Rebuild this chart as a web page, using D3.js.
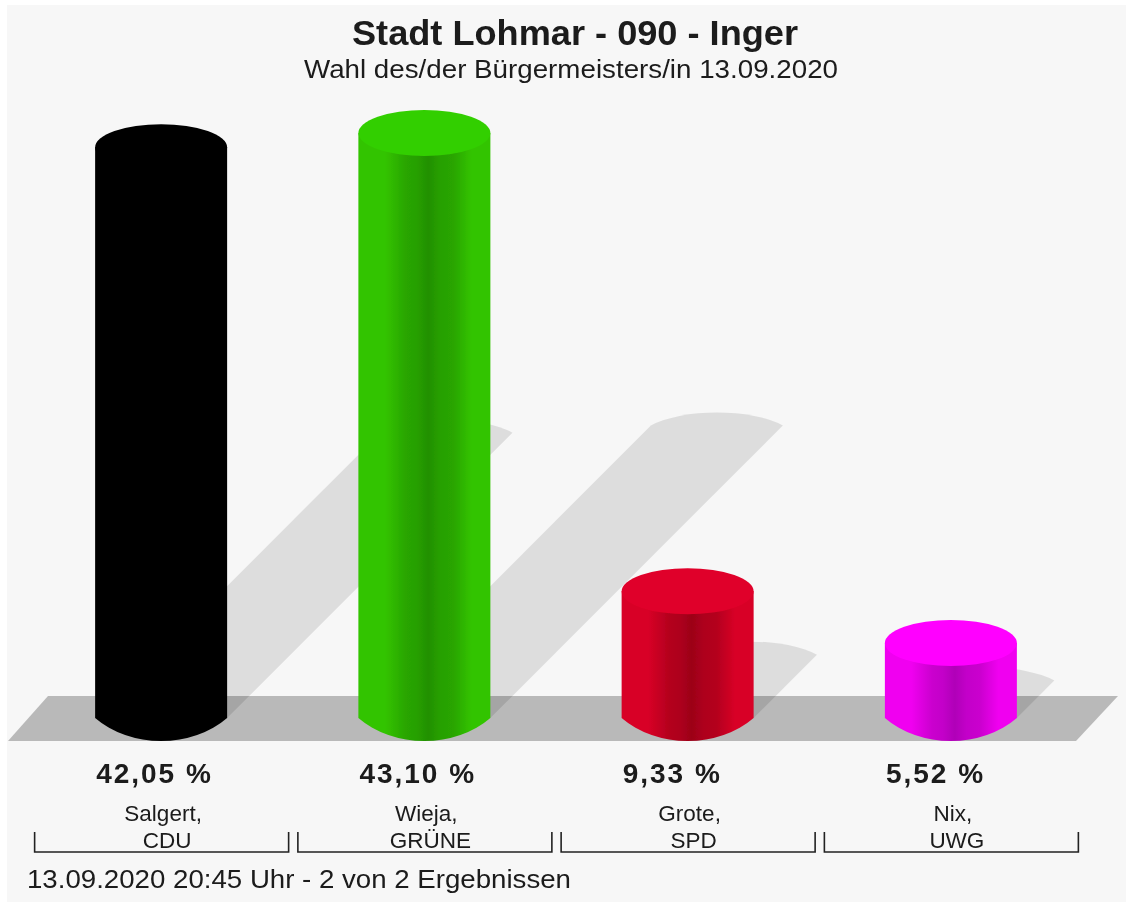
<!DOCTYPE html>
<html><head><meta charset="utf-8">
<style>html,body{margin:0;padding:0;background:#fff}svg{display:block}text{font-family:"Liberation Sans",Arial,sans-serif;fill:#1a1a1a}</style>
<script src="https://cdn.jsdelivr.net/npm/d3@7"></script>
</head><body><div id="chart"></div>
<script>
const categories = ["Salgert, CDU","Wieja, GRÜNE","Grote, SPD","Nix, UWG"];
const nameLines = ["Salgert,","Wieja,","Grote,","Nix,"];
const partyLines = ["CDU","GRÜNE","SPD","UWG"];
const values = [42.05,43.10,9.33,5.52];
const valueLabels = ["42,05 %","43,10 %","9,33 %","5,52 %"];
const capColors = ["#000000","#33cf00","#e0002a","#ff00ff"];
const sideColors = ["#000000","#33c400","#d80026","#f000f0"];
const darkColors = ["#000000","#229000","#9c0018","#b000b8"];
const titleText = "Stadt Lohmar - 090 - Inger";
const subtitleText = "Wahl des/der Bürgermeisters/in 13.09.2020";
const footerText = "13.09.2020 20:45 Uhr - 2 von 2 Ergebnissen";

const W=1133,H=906, baseY=718, rx=66, ry=23;
const svg=d3.select("#chart").append("svg").attr("width",W).attr("height",H);
svg.append("rect").attr("x",7).attr("y",5).attr("width",W-14).attr("height",H-9).attr("fill","#f7f7f7");
const x=d3.scaleBand().domain(categories).range([29.5,1082.5]);
const y=d3.scaleLinear().domain([0,43.10]).range([baseY,133]);
const cx=c=>x(c)+x.bandwidth()/2;
const defs=svg.append("defs");
const blur=defs.append("filter").attr("id","soft").attr("x","-5%").attr("y","-20%").attr("width","110%").attr("height","140%");
blur.append("feGaussianBlur").attr("stdDeviation",0.5);
const blur2=defs.append("filter").attr("id","soft2").attr("x","-5%").attr("y","-5%").attr("width","110%").attr("height","110%");
blur2.append("feGaussianBlur").attr("stdDeviation",0.5);

// floor plate
svg.append("path").attr("d",d3.line()([[48,696],[1118,696],[1076,741],[8,741]])+"Z").attr("fill","#b9b9b9");

// shadows: base outline sheared up-right by half of bar height
const rows=categories.map((c,i)=>({c,i,v:values[i]}));
svg.append("g").attr("filter","url(#soft2)").selectAll("path").data(rows).join("path")
 .attr("fill","#000").attr("fill-opacity",0.105)
 .attr("d",d=>{const c=cx(d.c),d0=(baseY-y(d.v))/2,tx=c+d0,ty=baseY-d0;
   return `M${c-rx},${baseY}L${tx-rx},${ty}A80,30 0 0 1 ${tx+rx},${ty}L${c+rx},${baseY}Z`;});

// gradients
rows.forEach(d=>{
 const g=defs.append("linearGradient").attr("id","g"+d.i);
 [[0,0],[0.2,0],[0.36,0.6],[0.44,0.7],[0.53,1],[0.62,0.7],[0.72,0.6],[0.86,0],[1,0]].forEach(([o,m])=>{
   g.append("stop").attr("offset",o).attr("stop-color",d3.interpolateRgb(sideColors[d.i],darkColors[d.i])(m));
 });
});

// bars
const bars=svg.append("g").attr("filter","url(#soft)").selectAll("g").data(rows).join("g");
bars.append("path").attr("fill",d=>`url(#g${d.i})`)
 .attr("d",d=>{const c=cx(d.c),t=y(d.v);
   return `M${c-rx},${t}L${c-rx},${baseY}A90,72 0 0 0 ${c+rx},${baseY}L${c+rx},${t}Z`;});
bars.append("ellipse").attr("cx",d=>cx(d.c)).attr("cy",d=>y(d.v)).attr("rx",rx).attr("ry",ry)
 .attr("fill",d=>capColors[d.i]);

// text
const T=svg.append("g").attr("filter","url(#soft)");
T.append("text").attr("x",575).attr("y",45).attr("text-anchor","middle").attr("font-size",35).attr("font-weight","bold").attr("textLength",446).attr("lengthAdjust","spacingAndGlyphs").text(titleText);
T.append("text").attr("x",571).attr("y",78).attr("text-anchor","middle").attr("font-size",26).attr("textLength",534).attr("lengthAdjust","spacingAndGlyphs").text(subtitleText);
T.selectAll(".v").data(rows).join("text").attr("class","v")
 .attr("x",d=>cx(d.c)-rx+1).attr("y",783).attr("font-size",28).attr("font-weight","bold").attr("letter-spacing",2)
 .text(d=>valueLabels[d.i]);
T.selectAll(".n").data(rows).join("text").attr("class","n")
 .attr("x",d=>cx(d.c)+2).attr("y",821).attr("text-anchor","middle").attr("font-size",22.5)
 .text(d=>nameLines[d.i]);
T.selectAll(".p").data(rows).join("text").attr("class","p")
 .attr("x",d=>cx(d.c)+6).attr("y",848).attr("text-anchor","middle").attr("font-size",22.5)
 .text(d=>partyLines[d.i]);
T.append("text").attr("x",27).attr("y",888).attr("font-size",26).attr("textLength",544).attr("lengthAdjust","spacingAndGlyphs").text(footerText);

// brackets
svg.append("g").selectAll("path").data(rows).join("path").attr("fill","none").attr("stroke","#222").attr("stroke-width",1.6)
 .attr("d",d=>{const c=cx(d.c)+0.5;return `M${c-127},832V852H${c+127}V832`;});
</script></body></html>
